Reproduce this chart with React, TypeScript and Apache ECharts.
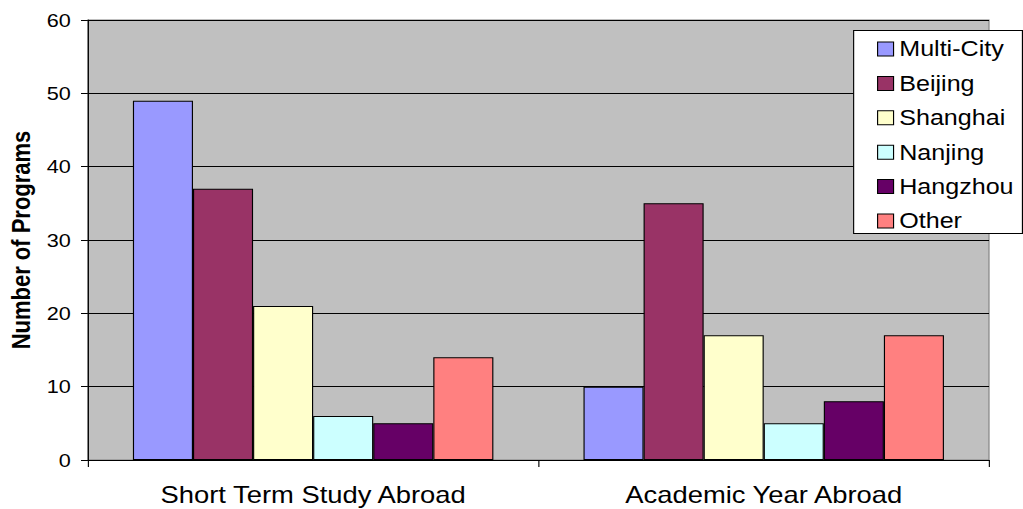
import React, { useEffect, useRef } from "react";
import * as echarts from "echarts";

const categories = ["Short Term Study Abroad", "Academic Year Abroad"];
const seriesNames = ["Multi-City", "Beijing", "Shanghai", "Nanjing", "Hangzhou", "Other"];
const multiCity = [49, 10];
const beijing = [37, 35];
const shanghai = [21, 17];
const nanjing = [6, 5];
const hangzhou = [5, 8];
const other = [14, 17];
const colors = ["#9999FF", "#993366", "#FFFFCC", "#CCFFFF", "#660066", "#FF8080"];
const yTicks = [0, 10, 20, 30, 40, 50, 60];

const STRETCH = 1023 / 897;
const FONT = "'Liberation Sans', Arial, Helvetica, sans-serif";

export default function App() {
  const ref = useRef<HTMLDivElement>(null);
  useEffect(() => {
    if (!ref.current) return;
    const chart = echarts.init(ref.current, undefined, { renderer: "svg" });
    const values = [multiCity, beijing, shanghai, nanjing, hangzhou, other];
    chart.setOption({
      animation: false,
      textStyle: { fontFamily: FONT },
      grid: {
        left: 76.3,
        right: 29.8,
        top: 20,
        bottom: 49,
        show: true,
        backgroundColor: "#C0C0C0",
        borderColor: "#808080",
        borderWidth: 1,
      },
      legend: {
        orient: "vertical",
        left: 769,
        top: 38,
        padding: 0,
        itemGap: 12.4,
        itemWidth: 14,
        itemHeight: 14,
        icon: "rect",
        z: 10,
        data: seriesNames,
        itemStyle: { borderColor: "#000", borderWidth: 1 },
        textStyle: { fontSize: 22, color: "#000", fontFamily: FONT, lineHeight: 22, padding: [0, 0, 0, 0] },
      },
      graphic: [
        {
          type: "rect",
          left: 748,
          top: 30,
          z: 8,
          shape: { x: 0, y: 0, width: 148, height: 203 },
          style: { fill: "#fff", stroke: "#000", lineWidth: 1 },
        },
      ],
      xAxis: {
        type: "category",
        data: categories,
        axisLine: { show: true, lineStyle: { color: "#000", width: 1 } },
        axisTick: { show: true, length: 7, lineStyle: { color: "#000" } },
        axisLabel: { fontSize: 24, color: "#000", margin: 23, fontFamily: FONT },
      },
      yAxis: {
        type: "value",
        min: 0,
        max: 60,
        interval: 10,
        name: "Number of Programs",
        nameLocation: "middle",
        nameGap: 47,
        nameTextStyle: { fontSize: 22, fontWeight: "bold", color: "#000", fontFamily: FONT },
        axisLine: { show: true, lineStyle: { color: "#000", width: 1 } },
        axisTick: { show: true, length: 6, lineStyle: { color: "#000" } },
        axisLabel: {
          fontSize: 19,
          color: "#000",
          margin: 15,
          fontFamily: FONT,
          formatter: (v: number) => (yTicks.includes(v) ? String(v) : ""),
        },
        splitLine: { show: true, lineStyle: { color: "#000", width: 1 } },
      },
      series: seriesNames.map((name, i) => ({
        name,
        type: "bar",
        data: values[i],
        barGap: "0%",
        barCategoryGap: "20%",
        itemStyle: { color: colors[i], borderColor: "#000", borderWidth: 1 },
      })),
    });
    return () => chart.dispose();
  }, []);
  return (
    <div style={{ position: "fixed", left: 0, top: 0, width: 1023, height: 509, overflow: "hidden", background: "#fff" }}>
      <div
        ref={ref}
        style={{ width: 897, height: 509, transform: `scaleX(${STRETCH})`, transformOrigin: "0 0" }}
      />
    </div>
  );
}
